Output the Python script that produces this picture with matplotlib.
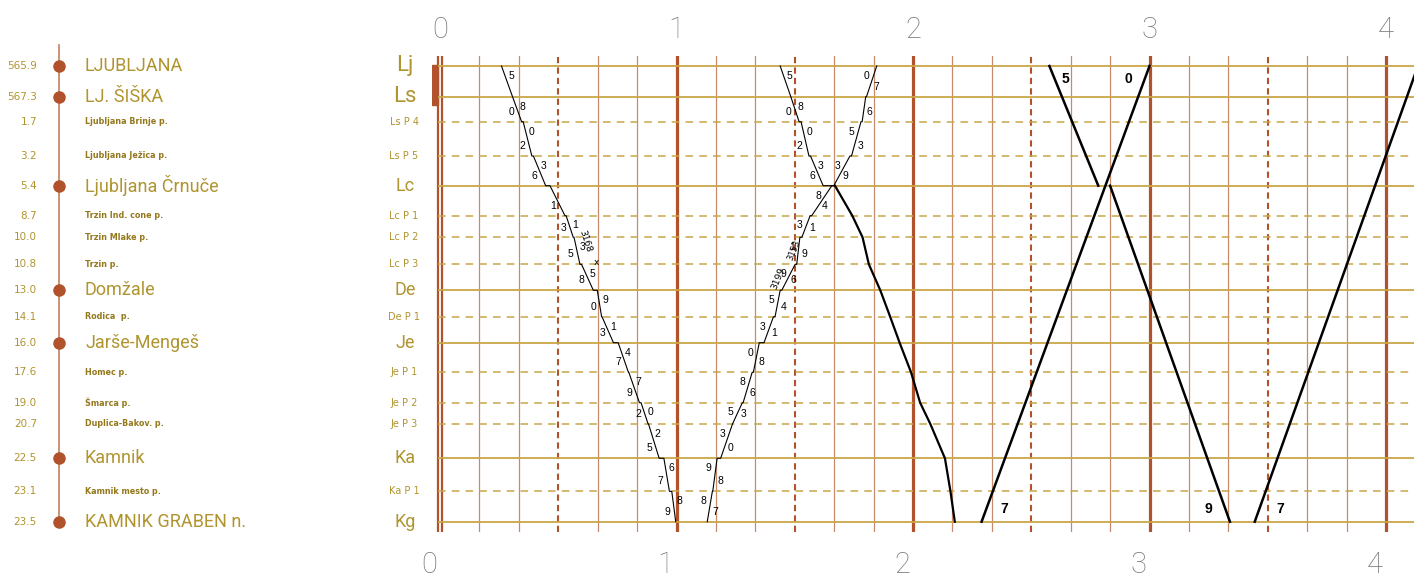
import matplotlib.pyplot as plt
from matplotlib.patches import Rectangle

# stations, top to bottom
codes = ['Lj', 'Ls', 'Ls P 4', 'Ls P 5', 'Lc', 'Lc P 1', 'Lc P 2', 'Lc P 3', 'De', 'De P 1',
         'Je', 'Je P 1', 'Je P 2', 'Je P 3', 'Ka', 'Ka P 1', 'Kg']
names = ['LJUBLJANA', 'LJ. ŠIŠKA', 'Ljubljana Brinje p.', 'Ljubljana Ježica p.', 'Ljubljana Črnuče',
         'Trzin Ind. cone p.', 'Trzin Mlake p.', 'Trzin p.', 'Domžale', 'Rodica  p.', 'Jarše-Mengeš',
         'Homec p.', 'Šmarca p.', 'Duplica-Bakov. p.', 'Kamnik', 'Kamnik mesto p.', 'KAMNIK GRABEN n.']
km = ['565.9', '567.3', '1.7', '3.2', '5.4', '8.7', '10.0', '10.8', '13.0', '14.1', '16.0', '17.6',
      '19.0', '20.7', '22.5', '23.1', '23.5']
major = [1, 1, 0, 0, 1, 0, 0, 0, 1, 0, 1, 0, 0, 0, 1, 0, 1]

# times in minutes (arrival / departure), station order top to bottom
down1_arr = [None, 18.4, 20.7, 23.3, 26.8, 31.7, 33.8, 35.5, 38.9, 41.0, 44.0, 47.8, 50.6, 52.8, 55.6, 58.2, 59.8]
down1_dep = [15.6, 18.4, 21.1, 23.7, 27.9, 32.0, 34.0, 35.9, 39.9, 41.1, 45.2, 47.9, 51.0, 52.9, 56.8, 58.8, None]
down1_arr_lab = ['', '', '0', '2', '6', '1', '3', '5', '8', '0', '3', '7', '9', '2', '5', '7', '9']
down1_dep_lab = ['5', '8', '0', '3', '', '1', '3', '5', '9', '1', '4', '7', '0', '2', '6', '8', '']

up1_arr = [110.8, 108.0, 106.8, 104.0, 99.4, 93.9, 91.3, 90.1, 86.3, 84.6, 81.0, 79.2, 76.7, 74.2, 70.3, 69.1, None]
up1_dep = [None, 108.2, 107.1, 104.4, 99.9, 94.3, 91.8, 90.5, 86.7, 85.0, 82.2, 79.5, 76.9, 74.2, 71.2, 69.2, 67.8]
up1_arr_lab = ['0', '', '5', '3', '8', '3', '1', '9', '5', '3', '0', '8', '5', '3', '9', '8', '']
up1_dep_lab = ['', '7', '6', '3', '9', '4', '1', '9', '6', '4', '1', '8', '6', '3', '0', '8', '7']

# second down train: thin to Lc, bold from Lc to Kg
down2_arr = [None, 89.0, 91.1, 93.6, 97.2]
down2_dep = [86.3, 89.0, 91.6, 94.0, 100.2]
down2_arr_lab = ['', '', '0', '2', '6']
down2_dep_lab = ['5', '8', '0', '3', '']
down2_bold = [100.2, 104.6, 107.2, 108.8, 111.7, 114.2, 116.6, 119.5, 121.8, 124.4, 128.1, 129.5, 130.6]

# bold through trains: (start station, start time, end station, end time)
bold_runs = [(16, 137.4, 0, 180.0), (0, 154.6, 4, 167.0), (4, 170.0, 16, 200.4), (16, 206.7, 0, 248.1)]
bold_labels = [('7', 16, 137.4, 0, 180.0, 13), ('0', 0, 180.0, 16, 137.4, -12),
               ('5', 0, 154.6, 4, 167.0, 8), ('9', 16, 200.4, 4, 170.0, -12),
               ('7', 16, 206.7, 0, 248.1, 15)]

hours = [0, 1, 2, 3, 4]

# layout
row_y = [0, 30.7, 55.7, 90, 119.7, 149.7, 171.3, 198.3, 224.3, 250.7, 276.7, 306.3, 336.7, 358,
         392.3, 425.3, 455.7]
GOLD = '#b0942f'
HLINE = '#c9a646'
BROWN = '#b0522b'
VLINE = '#c48b6c'

fig = plt.figure(figsize=(14.14, 5.77), dpi=100)
bot, hgt = 1 - 532 / 577, 476 / 577
ax = fig.add_axes([432 / 1414, bot, 982 / 1414, hgt])
axl = fig.add_axes([0, bot, 432 / 1414, hgt])
for a in (ax, axl):
    a.set_ylim(466, -10)
    a.axis('off')
ax.set_xlim(-2.03, 247.1)
axl.set_xlim(0, 432)

light = dict(family=['Roboto', 'DejaVu Sans'], fontweight='light')
plain = dict(family=['Roboto', 'DejaVu Sans'], fontweight='normal')
narrow = dict(family=['Liberation Sans Narrow', 'DejaVu Sans'])

# grid: vertical time lines
for m in range(10, 250, 10):
    if m % 60 == 0:
        ax.axvline(m, color=BROWN, lw=2.3, zorder=1)
    elif m % 30 == 0:
        ax.axvline(m, color=BROWN, lw=1.5, ls=(0, (3, 2)), zorder=1)
    else:
        ax.axvline(m, color=VLINE, lw=0.9, zorder=1)
ax.axvline(-0.6, color=BROWN, lw=1.6, zorder=1)
ax.axvline(0.4, color=BROWN, lw=1.6, zorder=1)
ax.add_patch(Rectangle((-2.1, -1), 1.7, 40, color=BROWN, zorder=1))

# grid: station lines
for y, big in zip(row_y, major):
    if big:
        ax.hlines(y, -0.5, 250, color=HLINE, lw=1.3, zorder=1.5, clip_on=False)
    else:
        ax.hlines(y, -0.5, 250, color=HLINE, lw=1.1, ls=(0, (5, 4)), zorder=1.5)

# hour labels
for h in hours:
    ax.text(h * 60, -36, str(h), ha='center', va='center', fontsize=21, color='#777777',
            clip_on=False, **light)
    ax.text(h * 60 - 2.8, 499, str(h), ha='center', va='center', fontsize=21, color='#777777',
            clip_on=False, **light)


def train_points(arr, dep, order):
    pts = []
    for i in order:
        for t in (arr[i], dep[i]):
            if t is not None:
                pts.append((t, row_y[i]))
    return pts


def label_run(arr, dep, arr_lab, dep_lab, order, size=7.5):
    for k in range(len(order) - 1):
        i, j = order[k], order[k + 1]
        t0, t1 = dep[i], arr[j]
        y0, y1 = row_y[i], row_y[j]
        f = min(10 / abs(y1 - y0), 0.45)
        if dep_lab[i]:
            ax.annotate(dep_lab[i], (t0 + (t1 - t0) * f, y0 + (y1 - y0) * f), xytext=(4.5, 0),
                        textcoords='offset points', ha='center', va='center', fontsize=size,
                        family='Liberation Sans', zorder=4)
        if arr_lab[j]:
            ax.annotate(arr_lab[j], (t1 - (t1 - t0) * f, y1 - (y1 - y0) * f), xytext=(-5, 0),
                        textcoords='offset points', ha='center', va='center', fontsize=size,
                        family='Liberation Sans', zorder=4)


down_order = list(range(17))
up_order = list(range(16, -1, -1))

pts = train_points(down1_arr, down1_dep, down_order)
ax.plot([p[0] for p in pts], [p[1] for p in pts], color='black', lw=0.8, zorder=3)
label_run(down1_arr, down1_dep, down1_arr_lab, down1_dep_lab, down_order)

pts = train_points(up1_arr, up1_dep, up_order)
ax.plot([p[0] for p in pts], [p[1] for p in pts], color='black', lw=0.8, zorder=3)
label_run(up1_arr, up1_dep, up1_arr_lab, up1_dep_lab, up_order)

pts = train_points(down2_arr, down2_dep, range(5))
ax.plot([p[0] for p in pts], [p[1] for p in pts], color='black', lw=0.8, zorder=3)
label_run(down2_arr, down2_dep, down2_arr_lab, down2_dep_lab, list(range(5)))
ax.plot(down2_bold, row_y[4:], color='black', lw=1.6, zorder=3)

# train numbers
ax.annotate('3168', (33.0, 171.3), xytext=(11, -3), textcoords='offset points', rotation=-72,
            ha='center', va='center', fontsize=6.5, zorder=4)
ax.annotate('x', (35.5, 198.3), xytext=(12, 1), textcoords='offset points', fontsize=6.5,
            ha='center', va='center', zorder=4)
ax.annotate('3199', (90.1, 198.3), xytext=(-12, -10), textcoords='offset points', rotation=68,
            ha='center', va='center', fontsize=6.5, zorder=4)
ax.annotate('3153', (91.8, 171.3), xytext=(-6, -9), textcoords='offset points', rotation=68,
            ha='center', va='center', fontsize=6, zorder=4)

for s0, t0, s1, t1 in bold_runs:
    ax.plot([t0, t1], [row_y[s0], row_y[s1]], color='black', lw=1.8, zorder=3)
for lab, s0, t0, s1, t1, side in bold_labels:
    y0, y1 = row_y[s0], row_y[s1]
    f = 13 / abs(y1 - y0)
    ax.annotate(lab, (t0 + (t1 - t0) * f, y0 + (y1 - y0) * f), xytext=(side, 0),
                textcoords='offset points', ha='center', va='center', fontsize=10,
                fontweight='bold', family='Liberation Sans', zorder=4)

# row codes at the left of the grid
for code, y, big in zip(codes, row_y, major):
    if big:
        fs = 16 if code in ('Lj', 'Ls') else 13
        axl.text(405, y, code, ha='center', va='center', fontsize=fs, color=GOLD, **plain)
    else:
        axl.text(404, y, code, ha='center', va='center', fontsize=7, color=GOLD, **narrow)

# station list
axl.plot([59, 59], [-21, row_y[-1]], color='#c0805e', lw=1.2, clip_on=False)
for name, k, y, big in zip(names, km, row_y, major):
    axl.text(37, y, k, ha='right', va='center', fontsize=7.5, color=GOLD, **narrow)
    if big:
        axl.plot(59, y, 'o', ms=8, color=BROWN)
        axl.text(85, y, name, ha='left', va='center', fontsize=13, color=GOLD, **plain)
    else:
        axl.text(85, y, name, ha='left', va='center', fontsize=5.8, color='#94781c',
                 fontweight='bold', **narrow)

fig.savefig('out.png', dpi=100, facecolor='white')
